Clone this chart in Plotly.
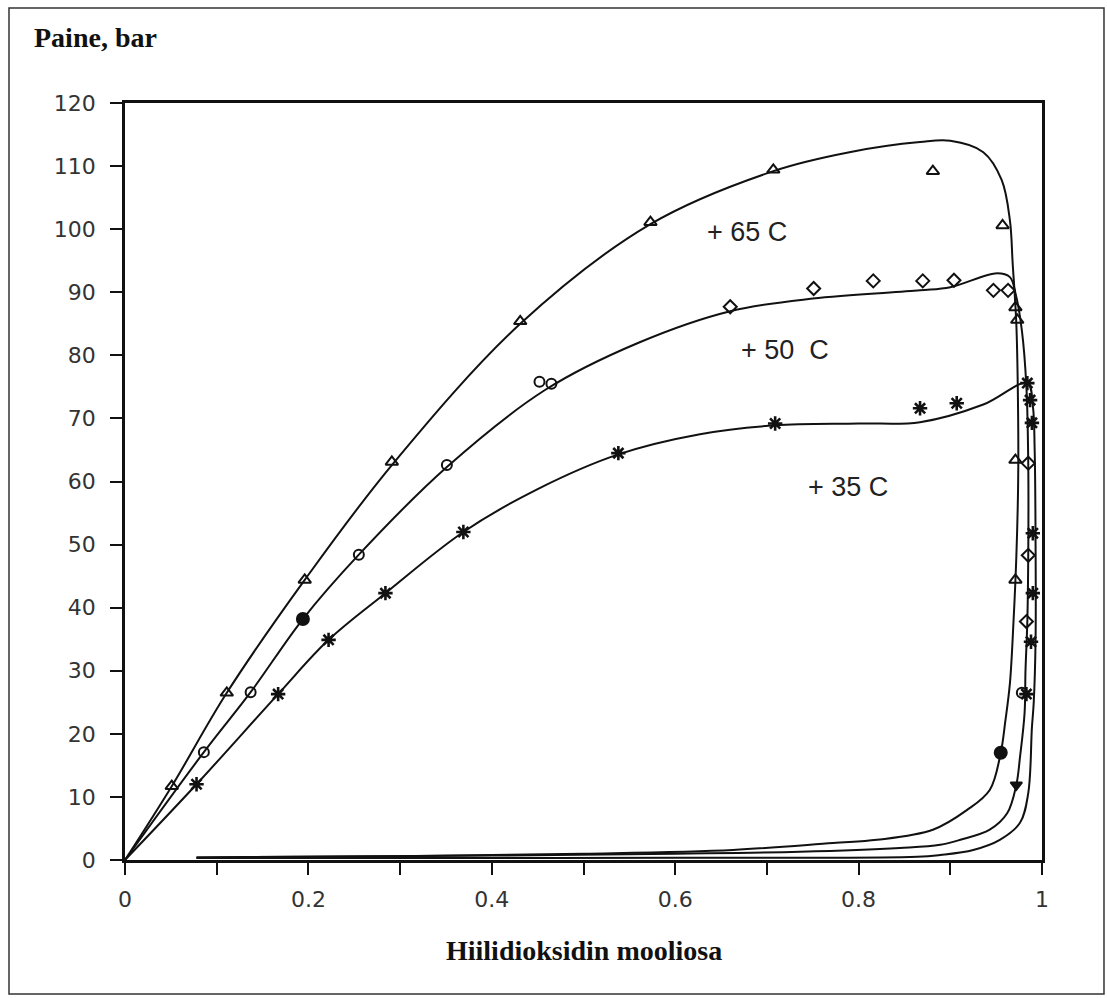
import plotly.graph_objects as go

# ---- curve data (mole fraction CO2, pressure bar) ----
c65_x = [0, 0.051, 0.111, 0.196, 0.291, 0.431, 0.573, 0.707, 0.79, 0.867, 0.90, 0.936, 0.956, 0.965,
         0.968, 0.972, 0.974, 0.974, 0.972, 0.969, 0.965, 0.960, 0.955, 0.943, 0.918, 0.881, 0.82,
         0.772, 0.663, 0.5, 0.3, 0.078]
c65_p = [0, 11.7, 26.5, 44.4, 62.6, 85.0, 100.8, 109.2, 112.2, 113.8, 114.0, 112.2, 107.8, 101.4,
         94.6, 85, 70, 60, 48, 38, 28, 22, 17, 11.1, 7.9, 4.8, 3.2,
         2.7, 1.6, 1.0, 0.6, 0.4]

c50_x = [0, 0.086, 0.137, 0.194, 0.255, 0.351, 0.458, 0.560, 0.660, 0.750, 0.867, 0.900,
         0.951, 0.965, 0.971, 0.978, 0.983, 0.985, 0.985, 0.984, 0.982, 0.981, 0.976, 0.972, 0.962,
         0.943, 0.911, 0.889, 0.845, 0.736, 0.6, 0.4, 0.078]
c50_p = [0, 17.1, 26.6, 38.2, 48.4, 62.3, 74.5, 82.0, 87.0, 89.0, 90.3, 90.8,
         93.0, 92.4, 89.9, 84, 75, 62.9, 48.3, 37.8, 30, 23.3, 16.3, 11.9, 7.4,
         4.8, 3.2, 2.4, 1.9, 1.3, 1.0, 0.7, 0.4]

c35_x = [0, 0.078, 0.167, 0.222, 0.284, 0.369, 0.45, 0.538, 0.627, 0.709, 0.80, 0.867, 0.936,
         0.984, 0.990, 0.992, 0.993, 0.993, 0.991, 0.989, 0.985, 0.976, 0.954, 0.925, 0.889, 0.864,
         0.6, 0.3, 0.078]
c35_p = [0, 12.0, 26.3, 34.9, 42.3, 52.0, 58.8, 64.3, 67.5, 68.9, 69.2, 69.4, 72.2,
         75.6, 72, 65, 50, 35, 25, 21, 10.6, 5.9, 3.2, 1.6, 0.8, 0.5,
         0.35, 0.3, 0.3]

# ---- measured points ----
tri_x = [0.051, 0.111, 0.196, 0.291, 0.431, 0.573, 0.707, 0.881, 0.957, 0.971, 0.973, 0.971, 0.971]
tri_p = [11.7, 26.5, 44.4, 63.1, 85.4, 101.1, 109.4, 109.2, 100.6, 87.6, 85.6, 63.4, 44.4]

circ_x = [0.086, 0.137, 0.255, 0.351, 0.452, 0.465, 0.978]
circ_p = [17.1, 26.6, 48.4, 62.6, 75.8, 75.5, 26.5]

fcirc_x = [0.194, 0.955]
fcirc_p = [38.2, 17.0]

dia_x = [0.660, 0.751, 0.816, 0.870, 0.904, 0.947, 0.963, 0.985, 0.985, 0.983]
dia_p = [87.7, 90.6, 91.8, 91.8, 91.9, 90.3, 90.3, 62.9, 48.3, 37.8]

star_x = [0.078, 0.167, 0.222, 0.284, 0.369, 0.538, 0.709, 0.867, 0.907, 0.984, 0.987, 0.989,
          0.990, 0.990, 0.988, 0.983]
star_p = [12.0, 26.3, 34.9, 42.3, 52.0, 64.5, 69.2, 71.6, 72.4, 75.6, 72.9, 69.3,
          51.8, 42.3, 34.6, 26.3]

tdown_x = [0.972]
tdown_p = [11.9]

labels = ["+ 65 C", "+ 50  C", "+ 35 C"]
label_x = [0.678, 0.72, 0.788]
label_p = [99.5, 80.8, 59.1]

x_tickvals = [0, 0.1, 0.2, 0.3, 0.4, 0.5, 0.6, 0.7, 0.8, 0.9, 1.0]
x_ticktext = ["0", "", "0.2", "", "0.4", "", "0.6", "", "0.8", "", "1"]
y_tickvals = list(range(0, 121, 10))

fig = go.Figure()
ink = "#111111"
for cx, cp in [(c65_x, c65_p), (c50_x, c50_p), (c35_x, c35_p)]:
    fig.add_trace(go.Scatter(x=cx, y=cp, mode="lines",
                             line=dict(color=ink, width=2, shape="spline", smoothing=1.0),
                             hoverinfo="skip", showlegend=False, cliponaxis=False))

def pts(x, y, sym, size, lw=2.0):
    fig.add_trace(go.Scatter(x=x, y=y, mode="markers", showlegend=False, cliponaxis=False,
                             marker=dict(symbol=sym, size=size, color=ink,
                                         line=dict(color=ink, width=lw))))

pts(tri_x, tri_p, "triangle-up-open", 11)
pts(circ_x, circ_p, "circle-open", 10)
pts(fcirc_x, fcirc_p, "circle", 12)
pts(dia_x, dia_p, "diamond-open", 10)
pts(star_x, star_p, "asterisk-open", 12, 2.6)
pts(tdown_x, tdown_p, "triangle-down", 10)

for t, lx, lp in zip(labels, label_x, label_p):
    fig.add_annotation(x=lx, y=lp, text=t, showarrow=False,
                       font=dict(family="Liberation Sans", size=27, color="#222222"))

fig.add_annotation(xref="paper", yref="paper", x=-0.1014, y=1.0859, xanchor="left", yanchor="middle",
                   text="<b>Paine, bar</b>", showarrow=False,
                   font=dict(family="Liberation Serif", size=28, color="#111111"))
fig.add_annotation(xref="paper", yref="paper", x=0.5005, y=-0.119, xanchor="center", yanchor="middle",
                   text="<b>Hiilidioksidin mooliosa</b>", showarrow=False,
                   font=dict(family="Liberation Serif", size=28, color="#111111"))

# outer border
fig.add_shape(type="rect", xref="paper", yref="paper", x0=-0.1265, x1=1.0676, y0=-0.177, y1=1.1255,
              line=dict(color="#333333", width=1.5), fillcolor="rgba(0,0,0,0)", layer="below")

fig.update_layout(
    width=1107, height=998,
    margin=dict(l=125, r=65, t=103, b=138),
    paper_bgcolor="white", plot_bgcolor="white",
    showlegend=False,
)
fig.update_xaxes(range=[0, 1], tickvals=x_tickvals, ticktext=x_ticktext,
                 showgrid=False, zeroline=False, showline=True, linecolor=ink, linewidth=2.5,
                 mirror=True, ticks="outside", ticklen=12, tickwidth=2, tickcolor=ink,
                 tickfont=dict(family="DejaVu Sans", size=22, color="#333333"), ticklabelstandoff=6)
fig.update_yaxes(range=[0, 120], tickvals=y_tickvals,
                 showgrid=False, zeroline=False, showline=True, linecolor=ink, linewidth=2.5,
                 mirror=True, ticks="outside", ticklen=12, tickwidth=2, tickcolor=ink,
                 tickfont=dict(family="DejaVu Sans", size=22, color="#333333"), ticklabelstandoff=10)

fig.write_html("out.html", config={"displayModeBar": False},
               post_script="document.body.style.margin='0';document.body.style.overflow='hidden';")
